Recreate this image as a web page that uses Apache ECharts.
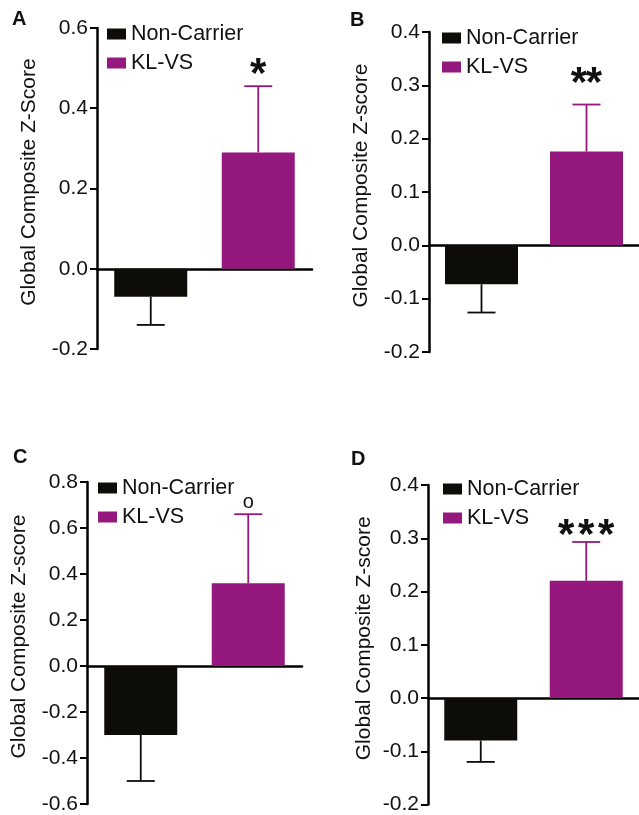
<!DOCTYPE html>
<html>
<head>
<meta charset="utf-8">
<script src="https://cdn.jsdelivr.net/npm/echarts@6/dist/echarts.min.js"></script>
<style>
html,body{margin:0;padding:0;background:#fff;}
#chart{width:639px;height:815px;}
</style>
</head>
<body>
<div id="chart"></div>
<script>
// ---- data ----
const categories = ['Non-Carrier', 'KL-VS'];
const panelLetters = ['A', 'B', 'C', 'D'];
const yNames = ['Global Composite Z-Score', 'Global Composite Z-score', 'Global Composite Z-score', 'Global Composite Z-score'];
const nonCarrierMean = [-0.07, -0.073, -0.30, -0.08];
const nonCarrierErr = [0.07, 0.053, 0.20, 0.04];
const klvsMean = [0.29, 0.176, 0.36, 0.22];
const klvsErr = [0.165, 0.088, 0.30, 0.073];
const sigMarks = ['*', '**', 'o', '***'];
const yMin = [-0.2, -0.2, -0.6, -0.2];
const yMax = [0.6, 0.4, 0.8, 0.4];
const yInterval = [0.2, 0.1, 0.2, 0.1];

// ---- layout / style ----
const FONT = 'Liberation Sans, Arial, Helvetica, sans-serif';
const BLACK = '#0e0c09';
const PURPLE = '#94187e';
const TEXT = '#111111';
const grids = [
  {left: 97, top: 28, width: 215, height: 321},
  {left: 429, top: 32, width: 215, height: 320},
  {left: 87, top: 482, width: 215, height: 322},
  {left: 428, top: 485, width: 215, height: 323}
];
const letterPos = [[12, 9], [350, 10], [13, 447], [351, 449]];
const legendPos = [[107, 23], [442, 27], [98, 477], [443, 478]];
const nameGaps = [57, 57, 57, 53];
const sigStyle = [
  {size: 42, offset: 32, spacing: 15},
  {size: 42, offset: 41, spacing: 15},
  {size: 20, offset: 12, spacing: 10},
  {size: 42, offset: 27, spacing: 20}
];

const option = {
  backgroundColor: '#ffffff',
  animation: false,
  title: [],
  legend: [],
  grid: [],
  xAxis: [],
  yAxis: [],
  series: []
};

for (let i = 0; i < 4; i++) {
  option.title.push({
    text: panelLetters[i], left: letterPos[i][0], top: letterPos[i][1], padding: 0,
    textStyle: {fontFamily: FONT, fontSize: 20, fontWeight: 'bold', color: TEXT}
  });
  option.legend.push({
    data: categories, orient: 'vertical', left: legendPos[i][0], top: legendPos[i][1],
    padding: 0, itemGap: 7, icon: 'rect', itemWidth: 19, itemHeight: 11, selectedMode: false,
    textStyle: {fontFamily: FONT, fontSize: 21.5, color: TEXT, lineHeight: 20}
  });
  option.grid.push(Object.assign({containLabel: false}, grids[i]));
  option.xAxis.push({
    type: 'category', gridIndex: i, data: categories,
    axisLine: {onZero: true, lineStyle: {color: '#000', width: 2.5}},
    axisTick: {show: false}, axisLabel: {show: false}, splitLine: {show: false}
  });
  option.yAxis.push({
    type: 'value', gridIndex: i, min: yMin[i], max: yMax[i], interval: yInterval[i],
    name: yNames[i], nameLocation: 'middle', nameGap: nameGaps[i],
    nameTextStyle: {fontFamily: FONT, fontSize: 21, color: TEXT, padding: [0, 0, 0, 13]},
    axisLine: {show: true, onZero: false, lineStyle: {color: '#000', width: 2.5}},
    axisTick: {show: true, length: 7, lineStyle: {color: '#000', width: 2}},
    axisLabel: {fontFamily: FONT, fontSize: 21, color: TEXT, margin: 9,
      formatter: v => (Math.abs(v) < 1e-9 ? 0 : v).toFixed(1)},
    splitLine: {show: false}
  });
  option.series.push({
    type: 'bar', name: 'Non-Carrier', xAxisIndex: i, yAxisIndex: i,
    data: [nonCarrierMean[i], null], barWidth: 73, barGap: '-100%',
    itemStyle: {color: BLACK}, z: 3
  });
  option.series.push({
    type: 'bar', name: 'KL-VS', xAxisIndex: i, yAxisIndex: i,
    data: [null, klvsMean[i]], barWidth: 73, barGap: '-100%',
    itemStyle: {color: PURPLE}, z: 3
  });
  option.series.push({
    type: 'custom', name: 'err' + i, xAxisIndex: i, yAxisIndex: i, z: 2,
    encode: {x: 0, y: [1, 2]},
    data: [
      [0, nonCarrierMean[i], nonCarrierMean[i] - nonCarrierErr[i]],
      [1, klvsMean[i], klvsMean[i] + klvsErr[i]]
    ],
    renderItem: function (params, api) {
      const x = api.value(0);
      const p1 = api.coord([x, api.value(1)]);
      const p2 = api.coord([x, api.value(2)]);
      const col = x === 0 ? BLACK : PURPLE;
      const st = {stroke: col, lineWidth: 1.8};
      return {
        type: 'group', children: [
          {type: 'line', shape: {x1: p1[0], y1: p1[1], x2: p2[0], y2: p2[1]}, style: st},
          {type: 'line', shape: {x1: p2[0] - 14, y1: p2[1], x2: p2[0] + 14, y2: p2[1]}, style: st}
        ]
      };
    }
  });
  const ss = sigStyle[i];
  const mark = sigMarks[i];
  option.series.push({
    type: 'custom', name: 'sig' + i, xAxisIndex: i, yAxisIndex: i, z: 4,
    encode: {x: 0, y: 1},
    data: [[1, klvsMean[i] + klvsErr[i]]],
    renderItem: function (params, api) {
      const p = api.coord([api.value(0), api.value(1)]);
      const chars = mark.split('');
      const n = chars.length;
      return {
        type: 'group',
        children: chars.map((c, k) => ({
          type: 'text',
          style: {
            text: c, x: p[0] + (k - (n - 1) / 2) * ss.spacing,
            y: p[1] - ss.offset,
            fill: TEXT, font: (c === 'o' ? 'normal ' : 'bold ') + ss.size + 'px ' + FONT,
            textAlign: 'center', textVerticalAlign: c === 'o' ? 'middle' : 'top'
          }
        }))
      };
    }
  });
}

const chart = echarts.init(document.getElementById('chart'), null, {renderer: 'canvas'});
chart.setOption(option);
</script>
</body>
</html>
